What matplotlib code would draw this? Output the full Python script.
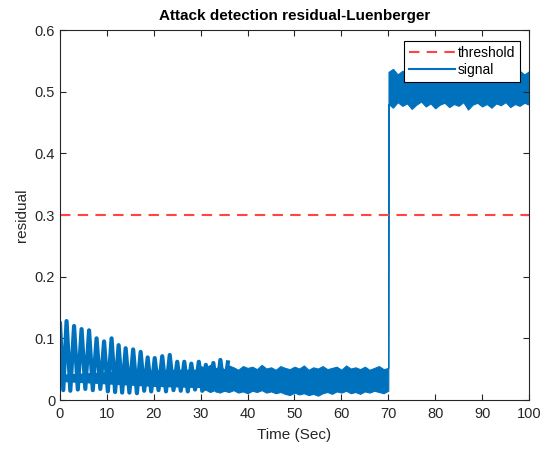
import matplotlib
matplotlib.use("Agg")
import matplotlib.pyplot as plt
from matplotlib.lines import Line2D

# oscillation peaks (0-36 s)
peak_t = [0.0, 1.4, 3.0, 4.6, 6.2, 7.8, 9.4, 11.0, 12.5, 14.0, 15.6, 17.2,
          18.7, 20.2, 21.8, 23.4, 25.0, 26.5, 28.0, 29.6, 31.1, 32.7, 34.2, 35.8]
peak_v = [0.124, 0.128, 0.120, 0.115, 0.113, 0.100, 0.095, 0.100, 0.089, 0.084,
          0.082, 0.078, 0.069, 0.068, 0.071, 0.073, 0.062, 0.062, 0.059, 0.062,
          0.057, 0.060, 0.065, 0.061]
trough_v = [0.016, 0.015, 0.017, 0.018, 0.016, 0.018, 0.014, 0.013, 0.012, 0.012,
            0.011, 0.015, 0.014, 0.016, 0.014, 0.016, 0.015, 0.014, 0.017, 0.015,
            0.016, 0.015, 0.017]

# solid core of the early oscillation
core_t = [0, 5, 10, 15, 20, 25, 30, 36]
core_lo = [0.030, 0.028, 0.026, 0.024, 0.022, 0.021, 0.020, 0.018]
core_hi = [0.042, 0.044, 0.046, 0.048, 0.049, 0.050, 0.050, 0.050]

# noisy band envelope (30-100 s)
band_t = list(range(30, 71)) + [70.05] + list(range(71, 101))
band_hi = [0.055, 0.052, 0.057, 0.051, 0.054, 0.050, 0.056, 0.053, 0.049, 0.055,
           0.052, 0.054, 0.050, 0.057, 0.051, 0.053, 0.049, 0.055, 0.052, 0.050,
           0.054, 0.051, 0.056, 0.049, 0.053, 0.051, 0.055, 0.050, 0.052, 0.054,
           0.049, 0.056, 0.051, 0.053, 0.050, 0.054, 0.049, 0.052, 0.055, 0.050,
           0.052,
           0.532, 0.537, 0.528, 0.534, 0.530, 0.536, 0.527, 0.533, 0.538, 0.529,
           0.534, 0.531, 0.536, 0.528, 0.533, 0.530, 0.537, 0.529, 0.535, 0.531,
           0.527, 0.534, 0.530, 0.536, 0.529, 0.533, 0.538, 0.530, 0.534, 0.528,
           0.533]
band_lo = [0.014, 0.017, 0.013, 0.016, 0.012, 0.015, 0.013, 0.016, 0.012, 0.014,
           0.011, 0.015, 0.013, 0.016, 0.012, 0.014, 0.011, 0.013, 0.010, 0.008,
           0.012, 0.009, 0.011, 0.008, 0.010, 0.007, 0.011, 0.013, 0.010, 0.014,
           0.012, 0.015, 0.011, 0.013, 0.010, 0.014, 0.012, 0.015, 0.013, 0.011,
           0.015,
           0.480, 0.474, 0.483, 0.477, 0.481, 0.472, 0.479, 0.484, 0.476, 0.481,
           0.473, 0.479, 0.482, 0.475, 0.480, 0.477, 0.483, 0.471, 0.479, 0.482,
           0.476, 0.480, 0.474, 0.481, 0.478, 0.483, 0.475, 0.480, 0.477, 0.482,
           0.479]

threshold = 0.3
xticks = list(range(0, 101, 10))
yticks = [0, 0.1, 0.2, 0.3, 0.4, 0.5, 0.6]

plt.rcParams['font.family'] = ['Liberation Sans', 'DejaVu Sans']
blue = '#0072BD'
red = '#FF4444'
axcol = '#262626'

# alternate peaks and troughs into one polyline
sig_t, sig_v = [], []
for i in range(len(peak_t)):
    sig_t.append(peak_t[i])
    sig_v.append(peak_v[i])
    if i < len(trough_v):
        sig_t.append((peak_t[i] + peak_t[i + 1]) / 2)
        sig_v.append(trough_v[i])

fig = plt.figure(figsize=(5.57, 4.5), dpi=100)
ax = fig.add_axes([0.1077, 0.1111, 0.842, 0.8222])

ax.plot([0, 100], [threshold, threshold], color=red, lw=1.5, dashes=(5, 3.5))
ax.plot(sig_t, sig_v, color=blue, lw=3)
ax.fill_between(core_t, core_lo, core_hi, color=blue, lw=0)
ax.fill_between(band_t, band_lo, band_hi, color=blue, lw=0.8, edgecolor=blue)

ax.set_xlim(0, 100)
ax.set_ylim(0, 0.6)
ax.set_xticks(xticks)
ax.set_yticks(yticks)
ax.set_yticklabels(['0', '0.1', '0.2', '0.3', '0.4', '0.5', '0.6'])
ax.tick_params(direction='in', length=4, width=0.8, colors=axcol, labelsize=10.5,
               top=True, right=True)
ax.tick_params(axis='x', pad=5)
for s in ax.spines.values():
    s.set_color(axcol)
    s.set_linewidth(0.8)

ax.set_title('Attack detection residual-Luenberger', fontsize=11,
             fontweight='bold', pad=7)
ax.set_xlabel('Time (Sec)', fontsize=11, color=axcol, labelpad=5)
ax.set_ylabel('residual', fontsize=11, color=axcol)

handles = [Line2D([], [], color=red, lw=1.5, dashes=(5, 3.5)),
           Line2D([], [], color=blue, lw=1.5)]
leg = ax.legend(handles, ['threshold', 'signal'], loc='upper right',
                bbox_to_anchor=(0.98, 0.97),
                fontsize=10, fancybox=False, framealpha=1, edgecolor='black',
                handlelength=3.3, borderpad=0.35, labelspacing=0.2,
                handletextpad=0.2, borderaxespad=0.0)
leg.get_frame().set_linewidth(0.8)

fig.savefig('out.png', dpi=100)
